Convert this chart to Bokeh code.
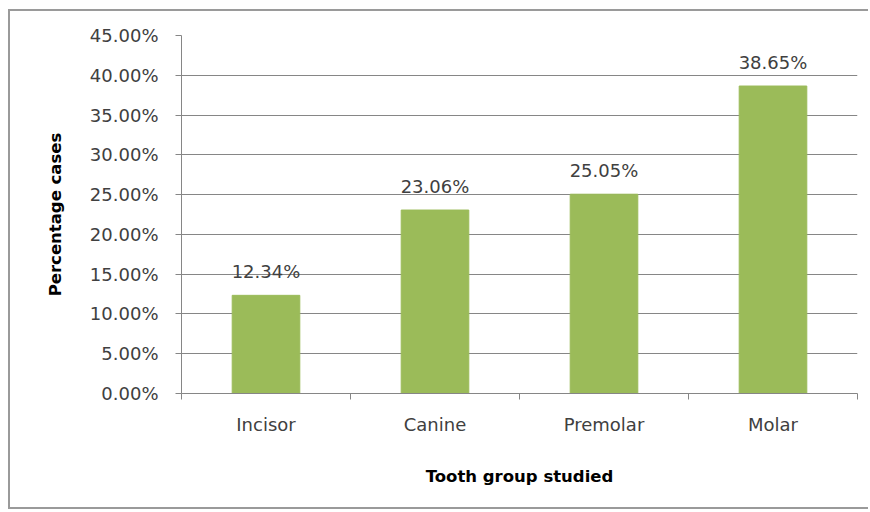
from bokeh.plotting import figure
from bokeh.models import FixedTicker, ColumnDataSource, LabelSet, NumeralTickFormatter, Range1d
from bokeh.core.properties import value
from bokeh.embed import file_html
from bokeh.resources import INLINE

categories = ["Incisor", "Canine", "Premolar", "Molar"]
values = [0.1234, 0.2306, 0.2505, 0.3865]
value_labels = ["12.34%", "23.06%", "25.05%", "38.65%"]
y_ticks = [0.0, 0.05, 0.10, 0.15, 0.20, 0.25, 0.30, 0.35, 0.40, 0.45]

FONT = "DejaVu Sans"
xs = [i + 0.5 for i in range(len(categories))]
src = ColumnDataSource(dict(x=xs, top=values, lab=value_labels))

border = "2px solid #9a9a9a"
p = figure(width=860, height=500, output_backend="svg", toolbar_location=None,
           x_range=Range1d(0, len(categories)), y_range=Range1d(0, 0.45),
           min_border_left=171, min_border_right=13, min_border_top=24, min_border_bottom=118,
           margin=(9, 0, 0, 8),
           styles={"border-top": border, "border-left": border, "border-bottom": border})
p.outline_line_color = None
p.background_fill_color = "white"
p.border_fill_color = "white"

p.vbar(x="x", top="top", width=0.4, source=src, color="#9BBB59")
p.add_layout(LabelSet(x="x", y="top", text="lab", source=src, text_align="center",
                      text_baseline="bottom", y_offset=13, text_font=value(FONT),
                      text_font_size="18px", text_color="#404040"))

# y axis
p.yaxis.ticker = FixedTicker(ticks=y_ticks)
p.yaxis.formatter = NumeralTickFormatter(format="0.00%")
p.yaxis.axis_label = "Percentage cases"
p.yaxis.axis_label_text_font = FONT
p.yaxis.axis_label_text_font_style = "bold"
p.yaxis.axis_label_text_font_size = "16.5px"
p.yaxis.axis_label_text_color = "#000000"
p.yaxis.axis_label_standoff = 22
p.yaxis.major_label_text_font = FONT
p.yaxis.major_label_text_font_size = "18px"
p.yaxis.major_label_text_color = "#404040"
p.yaxis.axis_line_color = "#868686"
p.yaxis.major_tick_line_color = "#868686"
p.yaxis.major_tick_out = 6
p.yaxis.major_tick_in = 0
p.yaxis.minor_tick_line_color = None
p.yaxis.major_label_standoff = 17

# x axis
p.xaxis.ticker = FixedTicker(ticks=xs, minor_ticks=list(range(len(categories) + 1)))
p.xaxis.major_label_overrides = {x: c for x, c in zip(xs, categories)}
p.xaxis.axis_label = "Tooth group studied"
p.xaxis.axis_label_text_font = FONT
p.xaxis.axis_label_text_font_style = "bold"
p.xaxis.axis_label_text_font_size = "16.5px"
p.xaxis.axis_label_text_color = "#000000"
p.xaxis.axis_label_standoff = 29
p.xaxis.major_label_text_font = FONT
p.xaxis.major_label_text_font_size = "18px"
p.xaxis.major_label_text_color = "#404040"
p.xaxis.major_label_standoff = 14
p.xaxis.axis_line_color = "#868686"
p.xaxis.major_tick_line_color = None
p.xaxis.major_tick_out = 0
p.xaxis.minor_tick_line_color = "#868686"
p.xaxis.minor_tick_out = 6
p.xaxis.minor_tick_in = 0

p.xgrid.grid_line_color = None
p.ygrid.ticker = FixedTicker(ticks=y_ticks)
p.ygrid.grid_line_color = "#868686"
p.ygrid.grid_line_width = 1

open("out.html", "w").write(file_html(p, INLINE))
